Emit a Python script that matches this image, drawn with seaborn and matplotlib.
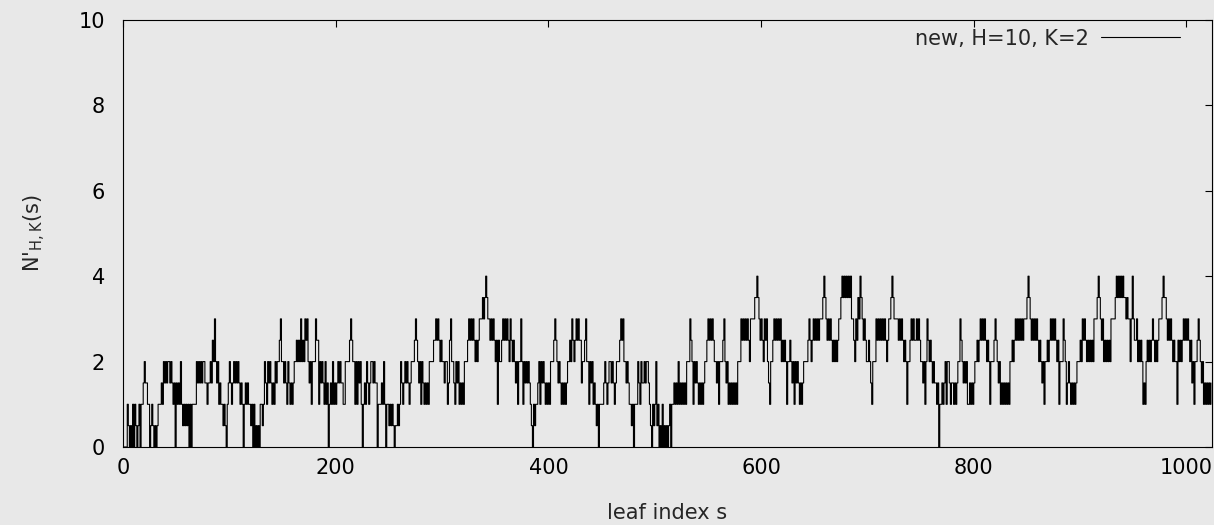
import numpy as np
import matplotlib
matplotlib.use("Agg")
import matplotlib.pyplot as plt
import seaborn as sns

# N'_{H,K}(s) for every leaf s, written in half units (digit d means d / 2).
# Each list covers one consecutive run of leaves, split into short pieces.
leaves_0000_0083 = ["00002", "10102", "02101", "2022", "34332", "20121", "01012", "2232", "43434",
                    "43432", "30323", "24212", "12120", "2022", "2243", "43434", "43323", "343"]
leaves_0084_0170 = ["546", "434232", "21210", "234", "323", "43434", "323", "20", "23232", "2120",
                    "201010", "2212", "432", "434323243", "44564", "434324", "32323", "44545", "46454"]
leaves_0171_0256 = ["656", "4342", "4446", "55", "2434", "32423", "0", "23242", "323", "434332",
                    "24444", "565", "44242", "434", "20", "232", "43234", "4343", "302", "22324",
                    "202", "21212", "101"]
leaves_0257_0343 = ["121", "24323", "434323", "44456", "543424", "323232", "44445", "565654",
                    "54434", "423", "56443", "24342", "3232", "44456", "5656545", "45666767876"]
leaves_0344_0429 = ["656565", "45254", "45656", "5654", "6", "54543", "4244", "64243", "4343",
                    "210", "21223", "42434", "323232", "44456", "5434", "3232323", "4454", "65456", "565"]
leaves_0430_0516 = ["534", "456", "442434", "232120", "22223", "43234", "434323", "444", "5656",
                    "443432", "21202", "22", "43243", "34344", "32102", "1241", "20102", "01010", "1202"]
leaves_0517_0602 = ["2323", "24232", "32324", "44654", "2434", "3232323", "4456", "565654", "4342",
                    "4445", "64342", "32323232", "444", "65656", "56546", "6667", "7876", "5654"]
leaves_0603_0689 = ["656", "432", "44565", "656564", "545424", "45434", "243432323", "44445",
                    "65456", "56565", "66678", "765656", "5454545", "66787", "8787878", "66546"]
leaves_0690_0775 = ["57687", "65654", "454324", "446", "56565", "656545", "66787666", "656565",
                    "45424", "456565", "565654", "434246", "5454343", "3230", "22323424"]
leaves_0776_0862 = ["4323", "32323", "44654", "34342", "232323", "44545", "656565", "45424",
                    "44565", "4342", "32323232", "44545", "656565656", "66787", "6565656545"]
leaves_0863_0948 = ["434", "24454", "565656", "54524", "446", "54234", "3232323", "44454", "656545",
                    "45454", "666787", "6564", "545454", "66667", "8787878", "77676", "646"]
leaves_0949_1023 = ["8", "65", "56454", "54232", "454", "5456", "545456", "66787", "76565", "65454",
                    "425454", "56565", "6545", "342", "44565", "43423", "232323"]

series_label = "new, H=10, K=2"
x_ticks = [0, 200, 400, 600, 800, 1000]
y_ticks = [0, 2, 4, 6, 8, 10]

runs = [leaves_0000_0083, leaves_0084_0170, leaves_0171_0256, leaves_0257_0343,
        leaves_0344_0429, leaves_0430_0516, leaves_0517_0602, leaves_0603_0689,
        leaves_0690_0775, leaves_0776_0862, leaves_0863_0948, leaves_0949_1023]
digits = "".join("".join(run) for run in runs)
n_prime = np.array([int(d) for d in digits], dtype=float) / 2.0
leaf = np.arange(len(n_prime))

BG = "#e8e8e8"
W, H = 1214, 525
FS = 15

sns.set_theme(style="white")
plt.rcParams["font.family"] = ["DejaVu Sans"]
plt.rcParams["mathtext.default"] = "regular"

fig = plt.figure(figsize=(W / 100, H / 100), dpi=100, facecolor=BG)
ax = fig.add_axes([123 / W, 1 - 447 / H, (1212 - 123) / W, (447 - 20) / H])
ax.set_facecolor(BG)

sns.lineplot(x=leaf, y=n_prime, ax=ax, color="black", linewidth=0.8,
             drawstyle="steps-post", estimator=None, label=series_label)

ax.set_xlim(0, 1024)
ax.set_ylim(0, 10)
ax.set_xticks(x_ticks)
ax.set_yticks(y_ticks)
ax.tick_params(direction="in", length=5, width=0.8, colors="black",
               labelsize=FS, top=True, right=True)
ax.tick_params(axis="x", pad=8)
ax.tick_params(axis="y", pad=13)
for spine in ax.spines.values():
    spine.set_visible(True)
    spine.set_color("black")
    spine.set_linewidth(0.8)

ax.set_xlabel("leaf index s", fontsize=FS, labelpad=18)
ax.set_ylabel(r"N'$_{H,K}$(s)", fontsize=FS, labelpad=22)

ax.legend(loc="upper right", bbox_to_anchor=(1 - 0.029, 1 - 0.02), frameon=False,
          markerfirst=False, handlelength=3.8, handletextpad=0.6, borderpad=0,
          borderaxespad=0, fontsize=FS)

fig.savefig("out.png", dpi=100, facecolor=BG)
